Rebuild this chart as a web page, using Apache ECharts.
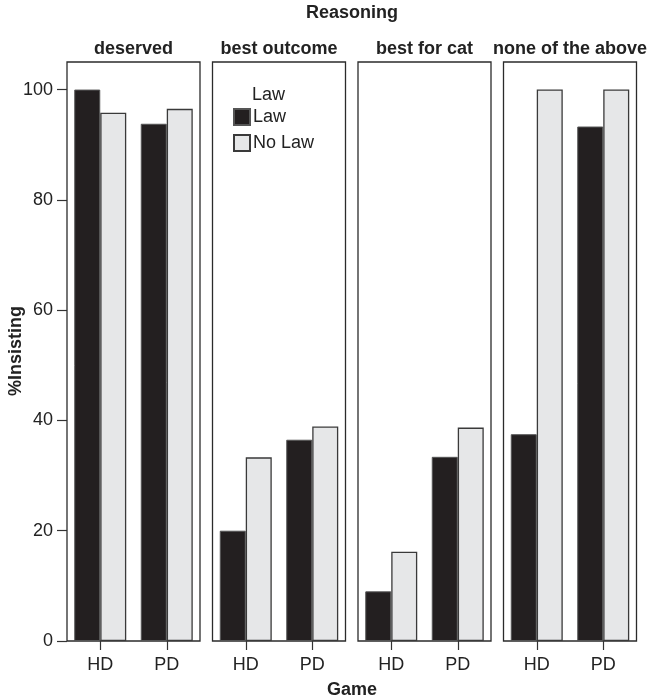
<!DOCTYPE html>
<html>
<head>
<meta charset="utf-8">
<script src="https://cdn.jsdelivr.net/npm/echarts@6/dist/echarts.min.js"></script>
<style>html,body{margin:0;padding:0;background:#fff;}#chart{width:650px;height:700px;}</style>
</head>
<body>
<div id="chart"></div>
<script>
var panels = ['deserved', 'best outcome', 'best for cat', 'none of the above'];
var games = ['HD', 'PD'];
var yTicks = [0, 20, 40, 60, 80, 100];
// values per panel: [HD, PD]
var lawValues = [
  [100, 93.8],
  [20, 36.5],
  [9.0, 33.4],
  [37.5, 93.3]
];
var noLawValues = [
  [95.8, 96.5],
  [33.3, 38.9],
  [16.2, 38.7],
  [100, 100]
];

var FONT = 'Liberation Sans, Arial, Helvetica, sans-serif';
var lefts = [67, 212.5, 358, 503.5];
var W = 133, TOP = 62, H = 579;

var grids = [], xAxes = [], yAxes = [], series = [], graphics = [];
for (var i = 0; i < panels.length; i++) {
  grids.push({left: lefts[i], top: TOP, width: W, height: H, show: true,
    borderColor: '#2b2b2b', borderWidth: 1.3, backgroundColor: 'transparent', containLabel: false});
  xAxes.push({type: 'category', gridIndex: i, data: games,
    axisLine: {show: false},
    axisTick: {show: true, alignWithLabel: true, length: 9, lineStyle: {color: '#333', width: 1.2}},
    axisLabel: {fontSize: 18, color: '#222', fontFamily: FONT, margin: 15}
  });
  yAxes.push({type: 'value', gridIndex: i, min: 0, max: 105,
    splitLine: {show: false},
    axisLine: {show: false},
    axisTick: {show: i === 0, length: 10, customValues: yTicks, lineStyle: {color: '#333', width: 1.2}},
    axisLabel: {show: i === 0, fontSize: 18, color: '#222', fontFamily: FONT, margin: 14, customValues: yTicks}
  });
  series.push({name: 'Law', type: 'bar', xAxisIndex: i, yAxisIndex: i, data: lawValues[i],
    barWidth: 26, barGap: '0%',
    itemStyle: {color: '#231f20', borderColor: '#555', borderWidth: 1}});
  series.push({name: 'No Law', type: 'bar', xAxisIndex: i, yAxisIndex: i, data: noLawValues[i],
    barWidth: 26, barGap: '0%',
    itemStyle: {color: '#e6e7e8', borderColor: '#3a3a3a', borderWidth: 1.3}});
  graphics.push({type: 'text', x: lefts[i] + W / 2, y: 49,
    style: {text: panels[i], font: 'bold 18px ' + FONT, fill: '#222',
      textAlign: 'center', textVerticalAlign: 'middle'}});
}
graphics.push({type: 'text', x: 352, y: 13, style: {text: 'Reasoning', font: 'bold 18px ' + FONT, fill: '#222', textAlign: 'center', textVerticalAlign: 'middle'}});
graphics.push({type: 'text', x: 352, y: 690, style: {text: 'Game', font: 'bold 18px ' + FONT, fill: '#222', textAlign: 'center', textVerticalAlign: 'middle'}});
graphics.push({type: 'text', x: 16, y: 351, rotation: Math.PI / 2, style: {text: '%Insisting', font: 'bold 18px ' + FONT, fill: '#222', textAlign: 'center', textVerticalAlign: 'middle'}});
graphics.push({type: 'text', x: 252, y: 95, style: {text: 'Law', font: '18px ' + FONT, fill: '#222', textAlign: 'left', textVerticalAlign: 'middle'}});

var chart = echarts.init(document.getElementById('chart'), null, {renderer: 'canvas'});
chart.setOption({
  animation: false,
  backgroundColor: '#fff',
  grid: grids,
  xAxis: xAxes,
  yAxis: yAxes,
  series: series,
  legend: {
    orient: 'vertical', left: 233, top: 108, padding: 0, itemWidth: 16, itemHeight: 16, itemGap: 8,
    icon: 'rect', data: ['Law', 'No Law'],
    textStyle: {fontSize: 18, color: '#222', fontFamily: FONT, padding: [0, 0, 0, -2]},
    selectedMode: false
  },
  graphic: graphics
});
</script>
</body>
</html>
